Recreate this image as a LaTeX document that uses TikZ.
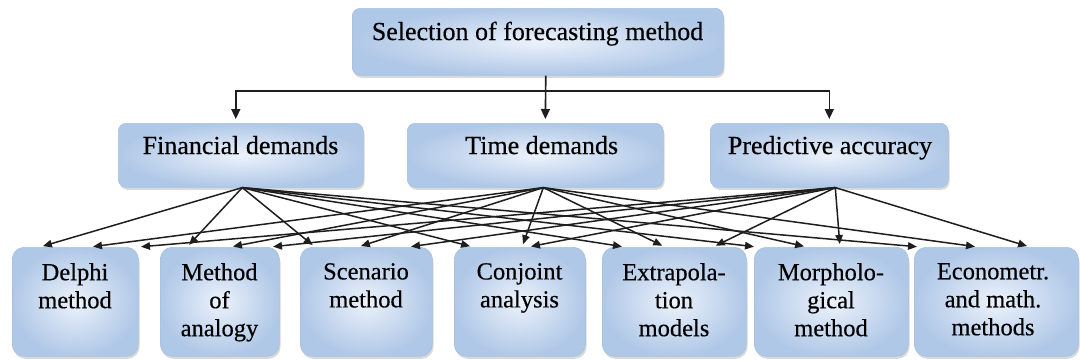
\documentclass[tikz,border=0pt]{standalone}
\usepackage{fontspec}
\setmainfont{Liberation Serif}
\newfontfamily\heavyserif[FakeBold=0.4]{Liberation Serif}
\usetikzlibrary{arrows.meta,shadows,calc}
\definecolor{boxin}{RGB}{236,242,251}
\definecolor{boxout}{RGB}{176,200,231}
\definecolor{boxedge}{RGB}{168,192,224}
\definecolor{linecol}{RGB}{30,30,30}
\tikzset{
  box/.style={draw=boxedge, line width=0.6pt, shading=radial, inner color=boxin, outer color=boxout,
    drop shadow={opacity=0.3, shadow xshift=1.2pt, shadow yshift=-2.5pt},
    inner sep=0pt, anchor=north west},
  smallbox/.style={box, rounded corners=8pt},
  bigbox/.style={box, rounded corners=12pt, minimum height=109pt},
  midtxt/.style={inner sep=0pt, anchor=base, font=\heavyserif\fontsize{26}{28}\selectfont, text=black},
  bottxt/.style={inner sep=0pt, anchor=north, align=center, font=\heavyserif\fontsize{24.5}{28}\selectfont, text=black},
  arr/.style={draw=linecol, line width=1.6pt, -{Triangle[length=10pt,width=9pt]}, shorten >=4pt},
  link/.style={draw=linecol, line width=1.5pt, -{Triangle[length=9pt,width=7.5pt]}, shorten >=3pt}
}
\begin{document}
\begin{tikzpicture}[x=1pt,y=-1pt]
\useasboundingbox (0,0) rectangle (1080,360);
% top box
\node[smallbox, minimum width=371pt, minimum height=67pt] (bS) at (352,8) {};
\node[midtxt] (tS) at (537.5,40) {Selection of forecasting method};
% middle boxes
\node[smallbox, minimum width=245pt, minimum height=64pt] (bF) at (118,123) {};
\node[smallbox, minimum width=256pt, minimum height=64pt] (bT) at (407,123) {};
\node[smallbox, minimum width=238pt, minimum height=64pt] (bP) at (710,123) {};
\node[midtxt] (tF) at (240.5,154) {Financial demands};
\node[midtxt] (tT) at (541.7,154) {Time demands};
\node[midtxt] (tP) at (830,154) {Predictive accuracy};
% bottom boxes
\node[bigbox, minimum width=126pt] (bD) at (12,247) {};
\node[bigbox, minimum width=119pt] (bA) at (160,247) {};
\node[bigbox, minimum width=132pt] (bSc) at (300,247) {};
\node[bigbox, minimum width=131pt] (bC) at (454,247) {};
\node[bigbox, minimum width=144pt] (bE) at (602,247) {};
\node[bigbox, minimum width=154pt] (bM) at (754,247) {};
\node[bigbox, minimum width=164pt] (bEc) at (914,247) {};
\node[bottxt] (tD) at (75,263) {Delphi\\method};
\node[bottxt] (tA) at (219.5,263) {Method\\of\\analogy};
\node[bottxt] (tSc) at (366,263) {Scenario\\method};
\node[bottxt] (tC) at (519.5,263) {Conjoint\\analysis};
\node[bottxt] (tE) at (674,263) {Extrapola-\\tion\\models};
\node[bottxt] (tM) at (831,263) {Morpholo-\\gical\\method};
\node[bottxt] (tEc) at (993,263) {Econometr.\\and math.\\methods};
% top connectors
\coordinate (hub) at (545.5,91);
\draw[arr] ([xshift=8pt]bS.south) -- ([xshift=10pt]bT.north);
\draw[arr] (hub) -| ([xshift=-5pt]bF.north);
\draw[arr] (hub) -| (bP.north);
% source points
\coordinate (sF) at ([xshift=1.5pt]bF.south);
\coordinate (sT) at ([xshift=8pt]bT.south);
\coordinate (sP) at ([xshift=6pt]bP.south);
% Delphi
\draw[link] (sF) -- ([xshift=28pt]bD.north west);
\draw[link] (sT) -- ([xshift=78pt]bD.north west);
\draw[link] (sP) -- ([xshift=126pt]bD.north west);
% Analogy
\draw[link] (sF) -- ([xshift=27pt]bA.north west);
\draw[link] (sT) -- ([xshift=70pt]bA.north west);
\draw[link] (sP) -- ([xshift=110pt]bA.north west);
% Scenario
\draw[link] (sF) -- ([xshift=15pt]bSc.north west);
\draw[link] (sT) -- ([xshift=58pt]bSc.north west);
\draw[link] (sP) -- ([xshift=108pt]bSc.north west);
% Conjoint
\draw[link] (sF) -- ([xshift=19pt]bC.north west);
\draw[link] (sT) -- ([xshift=68pt]bC.north west);
\draw[link] (sP) -- ([xshift=74pt]bC.north west);
% Extrapolation
\draw[link] (sF) -- ([xshift=23pt]bE.north west);
\draw[link] (sT) -- ([xshift=63pt]bE.north west);
\draw[link] (sP) -- ([xshift=111pt]bE.north west);
% Morphological
\draw[link] (sF) -- ([xshift=3pt]bM.north west);
\draw[link] (sT) -- ([xshift=53pt]bM.north west);
\draw[link] (sP) -- ([xshift=86pt]bM.north west);
% Econometr.
\draw[link] (sF) -- ([xshift=6pt]bEc.north west);
\draw[link] (sT) -- ([xshift=64pt]bEc.north west);
\draw[link] (sP) -- ([xshift=116pt]bEc.north west);
\end{tikzpicture}
\end{document}
